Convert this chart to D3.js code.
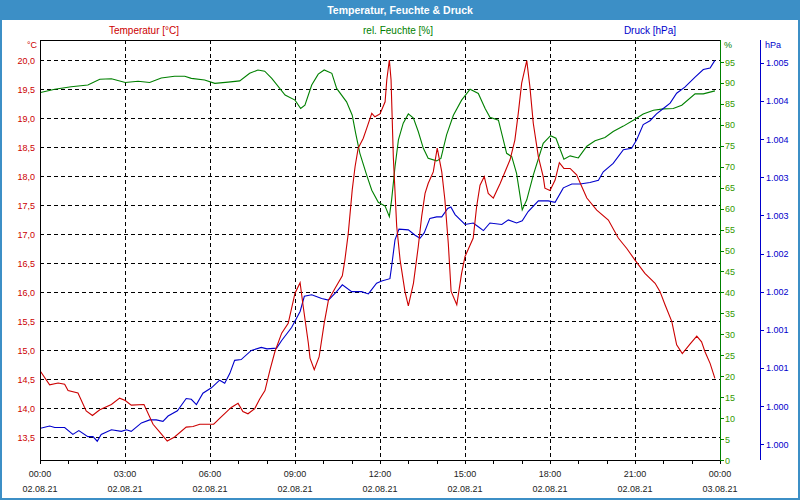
<!DOCTYPE html>
<html>
<head>
<meta charset="utf-8">
<script src="https://cdn.jsdelivr.net/npm/d3@7"></script>
<style>
  body { margin: 0; background: #fff; }
  text { font-family: "Liberation Sans", Arial, sans-serif; }
</style>
</head>
<body>
<script>
// hours since 02.08.21 00:00, value
var temperature = [
  [0.02, 14.63], [0.34, 14.40], [0.64, 14.43], [0.87, 14.41], [0.99, 14.30], [1.34, 14.26],
  [1.63, 13.95], [1.85, 13.87], [2.11, 13.97], [2.52, 14.06], [2.81, 14.17], [3.01, 14.13],
  [3.22, 14.05], [3.67, 14.06], [3.99, 13.72], [4.22, 13.59], [4.49, 13.43], [4.75, 13.50],
  [5.16, 13.67], [5.40, 13.68], [5.64, 13.72], [6.13, 13.72], [6.34, 13.82], [6.75, 14.01],
  [6.99, 14.08], [7.16, 13.94], [7.34, 13.90], [7.58, 13.99], [7.75, 14.15], [7.94, 14.30],
  [8.12, 14.66], [8.29, 14.97], [8.53, 15.29], [8.76, 15.46], [9.00, 15.98], [9.18, 16.16],
  [9.29, 15.75], [9.47, 15.12], [9.53, 14.86], [9.68, 14.66], [9.85, 14.88], [10.03, 15.46],
  [10.18, 15.86], [10.41, 16.06], [10.67, 16.28], [10.76, 16.55], [10.88, 17.01], [11.02, 17.76],
  [11.12, 18.16], [11.23, 18.48], [11.41, 18.65], [11.53, 18.82], [11.71, 19.08], [11.82, 19.02],
  [12.00, 19.07], [12.18, 19.28], [12.24, 19.66], [12.33, 20.00], [12.39, 19.66], [12.47, 18.33],
  [12.59, 17.13], [12.71, 16.55], [12.88, 16.01], [13.00, 15.76], [13.18, 16.15], [13.35, 16.78],
  [13.47, 17.30], [13.59, 17.70], [13.70, 17.87], [13.88, 18.07], [14.02, 18.48], [14.18, 18.07],
  [14.29, 17.59], [14.41, 16.84], [14.51, 16.01], [14.71, 15.78], [14.88, 16.32], [15.00, 16.61],
  [15.29, 16.93], [15.41, 17.47], [15.53, 17.84], [15.68, 17.99], [15.82, 17.70], [16.00, 17.62],
  [16.24, 17.87], [16.41, 18.07], [16.59, 18.28], [16.76, 18.62], [16.88, 19.08], [17.00, 19.60],
  [17.18, 19.99], [17.29, 19.54], [17.41, 18.91], [17.59, 18.33], [17.76, 17.99], [17.82, 17.79],
  [18.00, 17.75], [18.18, 17.93], [18.33, 18.23], [18.49, 18.13], [18.71, 18.13], [18.94, 18.02],
  [19.12, 17.82], [19.30, 17.62], [19.65, 17.41], [20.06, 17.24], [20.41, 16.93], [20.71, 16.75],
  [21.00, 16.55], [21.35, 16.32], [21.71, 16.15], [21.88, 16.01], [22.06, 15.78], [22.30, 15.49],
  [22.47, 15.09], [22.67, 14.94], [22.94, 15.10], [23.18, 15.24], [23.35, 15.14], [23.47, 14.97],
  [23.65, 14.77], [23.82, 14.51]
];

var humidity = [
  [0.02, 87.7], [0.52, 88.5], [1.10, 89.1], [1.69, 89.5], [2.11, 90.9], [2.52, 91.0],
  [3.01, 90.1], [3.46, 90.4], [3.87, 90.1], [4.28, 91.2], [4.75, 91.6], [5.11, 91.6],
  [5.34, 91.1], [5.81, 90.7], [6.17, 89.9], [6.64, 90.2], [7.05, 90.5], [7.40, 92.3],
  [7.69, 93.1], [7.93, 92.8], [8.18, 91.1], [8.65, 87.1], [9.00, 85.9], [9.20, 83.9],
  [9.35, 84.7], [9.59, 89.5], [9.82, 92.1], [10.03, 93.1], [10.30, 92.3], [10.47, 88.7],
  [10.82, 85.5], [11.02, 82.3], [11.14, 78.0], [11.29, 73.2], [11.53, 68.0], [11.71, 64.4],
  [11.94, 61.5], [12.18, 60.6], [12.33, 58.1], [12.41, 62.1], [12.53, 70.0], [12.65, 76.4],
  [12.82, 80.4], [13.00, 82.6], [13.18, 81.6], [13.35, 78.4], [13.53, 74.4], [13.70, 72.0],
  [14.00, 71.4], [14.15, 72.0], [14.35, 77.6], [14.59, 82.3], [14.88, 85.9], [15.18, 88.5],
  [15.47, 87.5], [15.71, 83.9], [15.88, 81.8], [16.18, 81.1], [16.47, 73.2], [16.65, 72.4],
  [16.82, 68.4], [17.02, 59.7], [17.18, 62.1], [17.41, 68.0], [17.76, 75.6], [18.02, 77.4],
  [18.21, 76.8], [18.49, 71.8], [18.71, 72.6], [19.00, 72.1], [19.30, 74.9], [19.59, 76.2],
  [19.94, 77.0], [20.23, 78.4], [20.59, 79.7], [20.94, 81.1], [21.29, 82.6], [21.65, 83.5],
  [22.00, 83.8], [22.35, 83.9], [22.65, 84.7], [23.12, 87.4], [23.41, 87.4], [23.82, 88.1]
];

var pressure = [
  [0.02, 1000.21], [0.34, 1000.24], [0.52, 1000.22], [0.87, 1000.22], [1.16, 1000.13], [1.37, 1000.18],
  [1.69, 1000.10], [1.87, 1000.10], [2.02, 1000.04], [2.16, 1000.13], [2.52, 1000.19], [2.87, 1000.17],
  [3.05, 1000.19], [3.22, 1000.17], [3.58, 1000.28], [3.87, 1000.32], [4.10, 1000.32], [4.34, 1000.30],
  [4.52, 1000.37], [4.85, 1000.44], [5.16, 1000.60], [5.34, 1000.59], [5.52, 1000.52], [5.75, 1000.67],
  [6.05, 1000.74], [6.34, 1000.84], [6.52, 1000.80], [6.70, 1000.93], [6.87, 1001.10], [7.10, 1001.11],
  [7.46, 1001.23], [7.81, 1001.27], [8.01, 1001.25], [8.35, 1001.26], [8.53, 1001.36], [8.88, 1001.53],
  [9.18, 1001.74], [9.33, 1001.94], [9.59, 1001.96], [9.94, 1001.91], [10.18, 1001.89], [10.47, 1002.00],
  [10.67, 1002.09], [11.00, 1002.00], [11.35, 1002.00], [11.59, 1001.97], [11.88, 1002.11], [12.06, 1002.14],
  [12.35, 1002.17], [12.41, 1002.33], [12.53, 1002.68], [12.67, 1002.82], [13.00, 1002.81], [13.24, 1002.74],
  [13.41, 1002.70], [13.56, 1002.77], [13.76, 1002.96], [14.00, 1002.98], [14.18, 1002.98], [14.39, 1003.09],
  [14.50, 1003.11], [14.65, 1003.01], [15.00, 1002.88], [15.29, 1002.90], [15.47, 1002.85], [15.65, 1002.80],
  [15.88, 1002.90], [16.30, 1002.88], [16.53, 1002.94], [16.82, 1002.90], [17.02, 1002.93], [17.23, 1003.05],
  [17.59, 1003.19], [17.94, 1003.19], [18.18, 1003.17], [18.47, 1003.36], [18.77, 1003.41], [19.06, 1003.41],
  [19.41, 1003.43], [19.71, 1003.46], [19.88, 1003.57], [20.23, 1003.68], [20.59, 1003.86], [20.88, 1003.88],
  [21.06, 1003.99], [21.29, 1004.19], [21.53, 1004.24], [21.76, 1004.33], [22.00, 1004.40], [22.24, 1004.47],
  [22.47, 1004.60], [22.76, 1004.68], [23.12, 1004.81], [23.41, 1004.91], [23.65, 1004.93], [23.82, 1005.03]
];

var hourTicks = [0, 3, 6, 9, 12, 15, 18, 21, 24];
var timeLabels = ["00:00", "03:00", "06:00", "09:00", "12:00", "15:00", "18:00", "21:00", "00:00"];
var dateLabels = ["02.08.21", "02.08.21", "02.08.21", "02.08.21", "02.08.21", "02.08.21", "02.08.21", "02.08.21", "03.08.21"];
var tempTicks = [13.5, 14, 14.5, 15, 15.5, 16, 16.5, 17, 17.5, 18, 18.5, 19, 19.5, 20];
var humTicks = [0, 5, 10, 15, 20, 25, 30, 35, 40, 45, 50, 55, 60, 65, 70, 75, 80, 85, 90, 95];
var presTicks = [1000, 1000.5, 1001, 1001.5, 1002, 1002.5, 1003, 1003.5, 1004, 1004.5, 1005];
var presLabels = ["1.000", "1.000", "1.001", "1.001", "1.002", "1.002", "1.003", "1.003", "1.004", "1.004", "1.005"];

var W = 800, H = 500;
var plotL = 40, plotR = 720, plotT = 40, plotB = 460;
var red = "#cc0000", green = "#008000", blue = "#0000cc", frame = "#3c8fc6";

var svg = d3.select("body").append("svg").attr("width", W).attr("height", H);

svg.append("rect").attr("x", 0).attr("y", 0).attr("width", W).attr("height", H).attr("fill", "#fff");
svg.append("rect").attr("x", 0).attr("y", 0).attr("width", W).attr("height", 20).attr("fill", frame);
svg.append("rect").attr("x", 1).attr("y", 1).attr("width", W - 2).attr("height", H - 2)
    .attr("fill", "none").attr("stroke", frame).attr("stroke-width", 2);

svg.append("text").attr("x", 400).attr("y", 14).attr("text-anchor", "middle")
    .attr("fill", "#fff").attr("font-weight", "bold").attr("font-size", "10.5px")
    .text("Temperatur, Feuchte & Druck");

var x = d3.scaleLinear().domain([0, 24]).range([plotL, plotR]);
var yT = d3.scaleLinear().domain([13.5, 20]).range([437, 60]);
var yH = d3.scaleLinear().domain([0, 95]).range([plotB, 62]);
var yP = d3.scaleLinear().domain([1000, 1005]).range([444.3, 62.7]);

var fmtT = d3.formatLocale({decimal: ",", thousands: ".", grouping: [3], currency: ["", "€"]}).format(".1f");

// grid
var grid = svg.append("g").attr("stroke", "#000").attr("stroke-dasharray", "4,3").attr("shape-rendering", "crispEdges");
grid.selectAll(".hg").data(tempTicks).enter().append("line")
    .attr("x1", plotL).attr("x2", plotR)
    .attr("y1", function (d) { return Math.round(yT(d)) + 0.5; })
    .attr("y2", function (d) { return Math.round(yT(d)) + 0.5; });
grid.selectAll(".vg").data(hourTicks.slice(1, -1)).enter().append("line")
    .attr("y1", plotT).attr("y2", plotB)
    .attr("x1", function (d) { return Math.round(x(d)) + 0.5; })
    .attr("x2", function (d) { return Math.round(x(d)) + 0.5; });

// series
svg.append("clipPath").attr("id", "plot").append("rect")
    .attr("x", plotL).attr("y", plotT).attr("width", plotR - plotL).attr("height", plotB - plotT);

function drawLine(data, yScale, color) {
    svg.append("path").datum(data)
        .attr("clip-path", "url(#plot)")
        .attr("fill", "none").attr("stroke", color).attr("stroke-width", 1.1)
        .attr("d", d3.line().x(function (d) { return x(d[0]); }).y(function (d) { return yScale(d[1]); }));
}
drawLine(humidity, yH, green);
drawLine(pressure, yP, blue);
drawLine(temperature, yT, red);

// frame lines
var ax = svg.append("g").attr("shape-rendering", "crispEdges");
ax.append("line").attr("x1", plotL).attr("x2", plotR).attr("y1", plotT + 0.5).attr("y2", plotT + 0.5).attr("stroke", "#000");
ax.append("line").attr("x1", plotL + 0.5).attr("x2", plotL + 0.5).attr("y1", plotT).attr("y2", plotB).attr("stroke", "#000");
ax.append("line").attr("x1", plotL).attr("x2", plotR).attr("y1", plotB + 0.5).attr("y2", plotB + 0.5).attr("stroke", "#000");
ax.append("line").attr("x1", plotR + 0.5).attr("x2", plotR + 0.5).attr("y1", plotT).attr("y2", plotB + 1).attr("stroke", green);
ax.append("line").attr("x1", 760.5).attr("x2", 760.5).attr("y1", plotT).attr("y2", plotB).attr("stroke", blue);

// x axis ticks (hourly) and labels
ax.selectAll(".xt").data(d3.range(0, 25)).enter().append("line")
    .attr("x1", function (d) { return Math.round(x(d)) + 0.5; })
    .attr("x2", function (d) { return Math.round(x(d)) + 0.5; })
    .attr("y1", plotB).attr("y2", plotB + 4).attr("stroke", "#000");
svg.selectAll(".xl").data(hourTicks).enter().append("text")
    .attr("x", function (d) { return x(d); }).attr("y", 477)
    .attr("text-anchor", "middle").attr("font-size", "9px").attr("fill", "#222")
    .text(function (d, i) { return timeLabels[i]; });
svg.selectAll(".xd").data(hourTicks).enter().append("text")
    .attr("x", function (d) { return x(d); }).attr("y", 492)
    .attr("text-anchor", "middle").attr("font-size", "9px").attr("fill", "#222")
    .text(function (d, i) { return dateLabels[i]; });

// temperature axis labels
svg.selectAll(".tl").data(tempTicks).enter().append("text")
    .attr("x", 35).attr("y", function (d) { return yT(d) + 3.5; })
    .attr("text-anchor", "end").attr("font-size", "9px").attr("fill", red)
    .text(function (d) { return fmtT(d); });
svg.append("text").attr("x", 37).attr("y", 48).attr("text-anchor", "end")
    .attr("font-size", "9px").attr("fill", red).text("°C");

// humidity axis
ax.selectAll(".ht").data(humTicks).enter().append("line")
    .attr("x1", plotR).attr("x2", plotR + 4)
    .attr("y1", function (d) { return Math.round(yH(d)) + 0.5; })
    .attr("y2", function (d) { return Math.round(yH(d)) + 0.5; })
    .attr("stroke", green);
svg.selectAll(".hl").data(humTicks).enter().append("text")
    .attr("x", 725).attr("y", function (d) { return yH(d) + 3.5; })
    .attr("font-size", "9px").attr("fill", "#339900")
    .text(function (d) { return d; });
svg.append("text").attr("x", 724).attr("y", 48).attr("font-size", "9px").attr("fill", green).text("%");

// pressure axis
ax.selectAll(".pt").data(presTicks).enter().append("line")
    .attr("x1", 760).attr("x2", 764)
    .attr("y1", function (d) { return Math.round(yP(d)) + 0.5; })
    .attr("y2", function (d) { return Math.round(yP(d)) + 0.5; })
    .attr("stroke", blue);
svg.selectAll(".pl").data(presTicks).enter().append("text")
    .attr("x", 766).attr("y", function (d) { return yP(d) + 3.5; })
    .attr("font-size", "9px").attr("fill", blue)
    .text(function (d, i) { return presLabels[i]; });
svg.append("text").attr("x", 765).attr("y", 48).attr("font-size", "9px").attr("fill", blue).text("hPa");

// series titles
svg.append("text").attr("x", 144).attr("y", 34).attr("text-anchor", "middle")
    .attr("font-size", "10px").attr("fill", red).text("Temperatur [°C]");
svg.append("text").attr("x", 398).attr("y", 34).attr("text-anchor", "middle")
    .attr("font-size", "10px").attr("fill", green).text("rel. Feuchte [%]");
svg.append("text").attr("x", 650).attr("y", 34).attr("text-anchor", "middle")
    .attr("font-size", "10px").attr("fill", blue).text("Druck [hPa]");
</script>
</body>
</html>
